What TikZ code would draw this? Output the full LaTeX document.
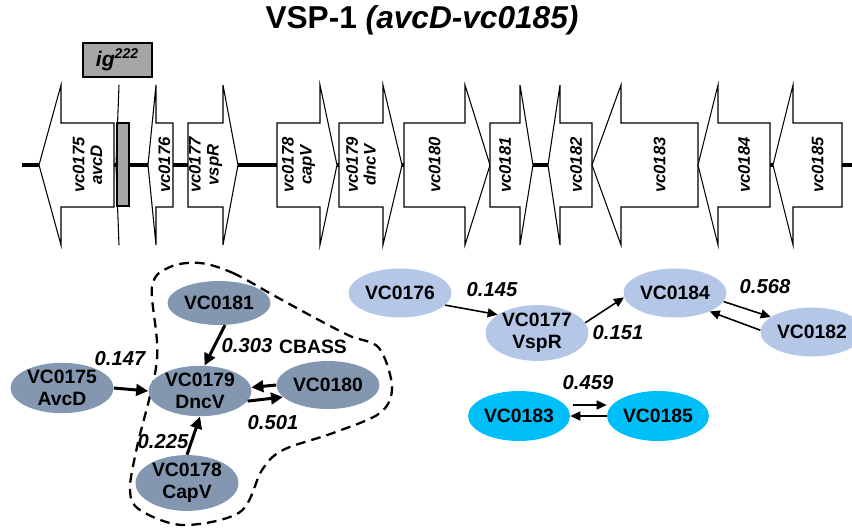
\documentclass[tikz,border=0pt]{standalone}
\usepackage{fontspec}
\setmainfont{Liberation Sans}
\usepackage{tikz}
\usetikzlibrary{arrows.meta,shapes.geometric,calc}
\definecolor{Slate}{HTML}{8497B0}
\definecolor{Pale}{HTML}{B4C7E7}
\definecolor{Sky}{HTML}{00BEF7}
\definecolor{IgGray}{HTML}{A6A6A6}

\begin{document}
\begin{tikzpicture}[
  x=0.02cm,y=-0.02cm,
  gene/.style={draw=black,fill=white,line width=0.6pt,line join=miter},
  genelab/.style={rotate=90,align=center,inner sep=0pt,font=\fontsize{9.5}{10.2}\selectfont\bfseries\itshape},
  igbox/.style={draw=black,fill=IgGray,line width=0.6pt,minimum width=1.38cm,minimum height=0.68cm,inner sep=0pt,font=\fontsize{12}{13}\selectfont\bfseries\itshape},
  slate/.style={ellipse,fill=Slate,minimum width=2.06cm,minimum height=0.96cm,inner sep=0pt,align=center,font=\fontsize{11}{12.5}\selectfont\bfseries},
  pale/.style={ellipse,fill=Pale,minimum width=2.06cm,minimum height=0.98cm,inner sep=0pt,align=center,font=\fontsize{11}{12.5}\selectfont\bfseries},
  sky/.style={ellipse,fill=Sky,minimum width=2.04cm,minimum height=1.0cm,inner sep=0pt,align=center,font=\fontsize{11}{12.5}\selectfont\bfseries},
  weight/.style={inner sep=0pt,font=\fontsize{11.5}{13}\selectfont\bfseries\itshape},
  bigarrow/.style={-{Triangle[length=2.4mm,width=2.3mm]},line width=1.7pt},
  smallarrow/.style={-{Triangle[length=2mm,width=1.8mm]},line width=0.9pt}
]
\useasboundingbox (0,0) rectangle (852,531);

% title
\node[font=\fontsize{18}{21}\selectfont\bfseries] (title) at (422,20) {VSP-1 \textit{(avcD-vc0185)}};

% gene map
\draw[line width=2.3pt] (22,165) -- (852,165);
\foreach \a/\b/\c/\lab [count=\i] in {188/223/238/{vc0177\\vspR},277/320/337/{vc0178\\capV},339/383/402/{vc0179\\dncV},404/465/490/{vc0180},490/520/533/{vc0181}}{
  \draw[gene] (\a,123) -- (\b,123) -- (\b,85) -- (\c,165) -- (\b,245) -- (\b,207) -- (\a,207) -- cycle;
  \node[genelab] (gr\i) at ({(\a+\b)/2},165) {\lab};
}
\foreach \a/\b/\c/\lab [count=\i] in {39/61/114/{vc0175\\avcD},148/156/173/{vc0176},548/560/592/{vc0182},592/621/698/{vc0183},698/718/770/{vc0184},773/793/842/{vc0185}}{
  \draw[gene] (\a,165) -- (\b,85) -- (\b,123) -- (\c,123) -- (\c,207) -- (\b,207) -- (\b,245) -- cycle;
  \node[genelab] (gl\i) at ({(\b+\c)/2},165) {\lab};
}
\draw[fill=IgGray,line width=0.6pt] (117,123) rectangle (129,206);
\draw[line width=0.6pt] (119,85) -- (116,165) -- (119,245);
\node[igbox] (ig) at (117.5,60) {ig\textsuperscript{222}};

% CBASS network
\draw[dashed,line width=1.3pt,dash pattern=on 5.5pt off 3.5pt] plot[smooth cycle,tension=0.55] coordinates {
  (200,263) (233,273) (273,295) (317,319) (350,336) (379,348) (392,387) (380,413)
  (333,433) (283,450) (262,470) (240,512) (183,525) (140,510) (130,490)
  (137,447) (157,360) (152,287) (170,267)};
\node[slate,minimum height=0.88cm] (n181) at (219,303) {VC0181};
\node[slate] (n175) at (62,388) {VC0175\\AvcD};
\node[slate] (n179) at (200,391) {VC0179\\DncV};
\node[slate] (n180) at (328,385) {VC0180};
\node[slate] (n178) at (187,483) {VC0178\\CapV};
\node[font=\fontsize{11}{12.5}\selectfont\bfseries,inner sep=0pt] (cbass) at (313,347) {CBASS};
\draw[bigarrow] (n181.-75) -- (n179.80);
\draw[bigarrow] (n175.east) -- (n179.west);
\draw[bigarrow] (n180.180) -- (n179.4);
\draw[bigarrow] (n179.-12) -- (n180.-165);
\draw[bigarrow] (n178.north) -- (n179.south);
\node[weight] (w147) at (120,359) {0.147};
\node[weight] (w303) at (247,346) {0.303};
\node[weight] (w501) at (273,423) {0.501};
\node[weight] (w225) at (163,442) {0.225};

% VspR network
\node[pale] (n176) at (400,293) {VC0176};
\node[pale] (n177) at (537,333) {VC0177\\VspR};
\node[pale] (n184) at (675,293) {VC0184};
\node[pale] (n182) at (812,332) {VC0182};
\draw[smallarrow] (n176.-15) -- (n177.155);
\draw[smallarrow] (n177.12) -- (n184.185);
\draw[smallarrow] (n184.-10) -- (n182.160);
\draw[smallarrow] (n182.178) -- (n184.-28);
\node[weight] (w145) at (492,290) {0.145};
\node[weight] (w151) at (618,333) {0.151};
\node[weight] (w568) at (765,287) {0.568};

% VC0183/VC0185 pair
\node[sky] (n183) at (519,416) {VC0183};
\node[sky] (n185) at (658,416) {VC0185};
\draw[smallarrow] ($(n183.east)+(3,-11)$) -- ($(n185.west)+(0,-11)$);
\draw[smallarrow] (n185.west) -- (n183.east);
\node[weight] (w459) at (588,383) {0.459};
\end{tikzpicture}
\end{document}
